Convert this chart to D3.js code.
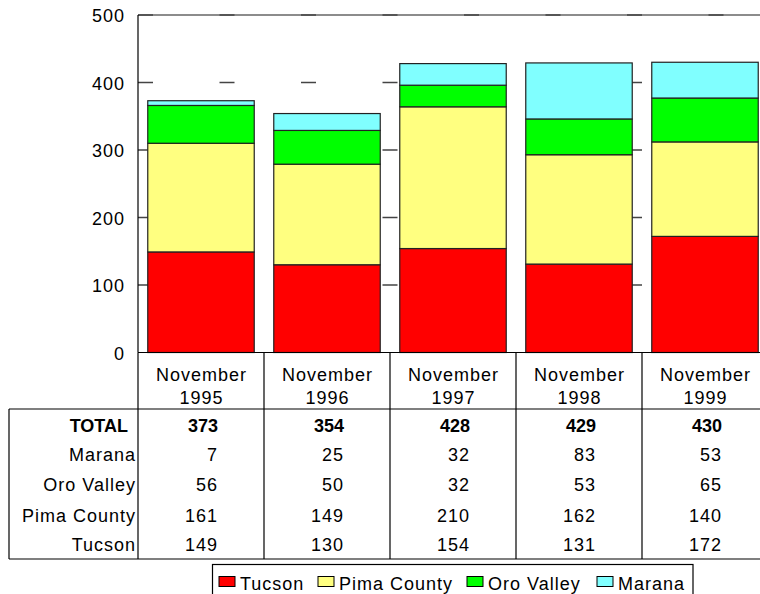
<!DOCTYPE html>
<html>
<head>
<meta charset="utf-8">
<script src="https://cdn.jsdelivr.net/npm/d3@7"></script>
<style>
  html, body { margin: 0; padding: 0; background: #fff; }
  svg text { font-family: "Liberation Sans", Arial, sans-serif; fill: #000; }
</style>
</head>
<body>
<svg id="chart" width="760" height="594"></svg>
<script>
const categories = ["November 1995", "November 1996", "November 1997", "November 1998", "November 1999"];
const seriesNames = ["Tucson", "Pima County", "Oro Valley", "Marana"];
const tucson     = [149, 130, 154, 131, 172];
const pimaCounty = [161, 149, 210, 162, 140];
const oroValley  = [56, 50, 32, 53, 65];
const marana     = [7, 25, 32, 83, 53];
const totals     = [373, 354, 428, 429, 430];
const yTicks     = [0, 100, 200, 300, 400, 500];
const colors     = ["#FF0000", "#FFFF80", "#00FF00", "#80FFFF"];

const seriesValues = [tucson, pimaCounty, oroValley, marana];
const rows = categories.map((c, i) => {
  const r = { cat: c };
  seriesNames.forEach((s, k) => r[s] = seriesValues[k][i]);
  return r;
});

const svg = d3.select("#chart");
const plotLeft = 138, plotRight = 768, plotTop = 15, plotBottom = 352.5;

const x = d3.scaleBand().domain(categories).range([plotLeft, plotRight])
  .paddingInner(0.155).paddingOuter(0.0775);
const col = d3.scaleBand().domain(categories).range([plotLeft, plotRight]).padding(0);
const y = d3.scaleLinear().domain([0, 500]).range([plotBottom, plotTop]);

// top border at 500
svg.append("line").attr("x1", plotLeft).attr("x2", 760).attr("y1", y(500)).attr("y2", y(500))
  .attr("stroke", "#666").attr("stroke-width", 1.3);

// dashed gridlines
svg.append("g").selectAll("line").data(yTicks.filter(t => t > 0)).join("line")
  .attr("x1", plotLeft).attr("x2", 760)
  .attr("y1", d => y(d)).attr("y2", d => y(d))
  .attr("stroke", "#444").attr("stroke-width", 1.3)
  .attr("stroke-dasharray", "15,66.5");

// stacked bars
const stack = d3.stack().keys(seriesNames)(rows);
svg.append("g").selectAll("g").data(stack).join("g")
  .attr("fill", (d, i) => colors[i])
  .selectAll("rect").data(d => d).join("rect")
  .attr("x", d => x(d.data.cat))
  .attr("width", x.bandwidth())
  .attr("y", d => y(d[1]))
  .attr("height", d => y(d[0]) - y(d[1]))
  .attr("stroke", "#222").attr("stroke-width", 1.2);

// y axis line
svg.append("line").attr("x1", plotLeft).attr("x2", plotLeft).attr("y1", plotTop).attr("y2", plotBottom)
  .attr("stroke", "#000").attr("stroke-width", 1.2);

// y axis labels
svg.append("g").selectAll("text").data(yTicks).join("text")
  .attr("x", 125).attr("y", d => y(d) + 7)
  .attr("text-anchor", "end")
  .style("font-size", "18px").style("letter-spacing", "1px")
  .text(d => d);

// table
const tableLeft = 9, headerTop = plotBottom, headerBottom = 409, tableBottom = 559;
const g = svg.append("g").attr("stroke", "#000").attr("stroke-width", 1.2);
g.append("line").attr("x1", plotLeft).attr("x2", 760).attr("y1", headerTop).attr("y2", headerTop);
g.append("line").attr("x1", tableLeft).attr("x2", 760).attr("y1", headerBottom).attr("y2", headerBottom);
g.append("line").attr("x1", tableLeft).attr("x2", 760).attr("y1", tableBottom).attr("y2", tableBottom);
g.append("line").attr("x1", tableLeft).attr("x2", tableLeft).attr("y1", headerBottom).attr("y2", tableBottom);
g.append("line").attr("x1", plotLeft).attr("x2", plotLeft).attr("y1", headerTop).attr("y2", tableBottom);
g.selectAll("line.col").data(categories).join("line").attr("class", "col")
  .attr("x1", d => col(d) + col.bandwidth()).attr("x2", d => col(d) + col.bandwidth())
  .attr("y1", headerTop).attr("y2", tableBottom);

// header labels
const hdr = svg.append("g").selectAll("text").data(categories).join("text")
  .attr("text-anchor", "middle")
  .style("font-size", "18px").style("letter-spacing", "1px");
hdr.append("tspan").attr("x", d => col(d) + col.bandwidth() / 2 + 0.5).attr("y", 381).text(d => d.split(" ")[0]);
hdr.append("tspan").attr("x", d => col(d) + col.bandwidth() / 2 + 0.5).attr("y", 404).text(d => d.split(" ")[1]);

// table rows
const tableRows = [
  { label: "TOTAL", values: totals, bold: true, base: 432 },
  { label: "Marana", values: marana, base: 461 },
  { label: "Oro Valley", values: oroValley, base: 491 },
  { label: "Pima County", values: pimaCounty, base: 522 },
  { label: "Tucson", values: tucson, base: 551 }
];
const tr = svg.append("g").selectAll("g").data(tableRows).join("g");
tr.append("text")
  .attr("x", d => d.bold ? 128 : 136).attr("y", d => d.base)
  .attr("text-anchor", "end")
  .style("font-size", "18px")
  .style("font-weight", d => d.bold ? "bold" : "normal")
  .style("letter-spacing", d => d.bold ? "0px" : "1px")
  .text(d => d.label);
tr.each(function(r) {
  d3.select(this).selectAll("text.v").data(r.values).join("text").attr("class", "v")
    .attr("x", (v, i) => col(categories[i]) + 80).attr("y", r.base)
    .attr("text-anchor", "end")
    .style("font-size", "18px")
    .style("font-weight", r.bold ? "bold" : "normal")
    .style("letter-spacing", r.bold ? "0px" : "1px")
    .text(v => v);
});

// legend
const lg = svg.append("g");
lg.append("rect").attr("x", 212.5).attr("y", 564.5).attr("width", 480.5).attr("height", 40)
  .attr("fill", "#fff").attr("stroke", "#000").attr("stroke-width", 1.2);
const legendX = [219, 318, 467, 597];
const li = lg.selectAll("g").data(seriesNames).join("g")
  .attr("transform", (d, i) => `translate(${legendX[i]},0)`);
li.append("rect").attr("x", 0).attr("y", 576.5).attr("width", 16).attr("height", 10)
  .attr("fill", (d, i) => colors[i]).attr("stroke", "#000").attr("stroke-width", 1);
li.append("text").attr("x", 21).attr("y", 590)
  .style("font-size", "18px").style("letter-spacing", "1px")
  .text(d => d);
</script>
</body>
</html>
